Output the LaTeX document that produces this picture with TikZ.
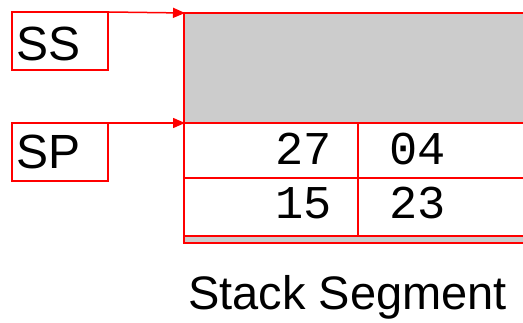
\documentclass[tikz,border=0pt]{standalone}
\usepackage{fontspec}
\setmainfont{Liberation Sans}
\newfontfamily\monof{Liberation Mono}
\usetikzlibrary{arrows.meta}
\definecolor{boxred}{RGB}{255,0,0}
\definecolor{fillgray}{RGB}{204,204,204}
\tikzset{
  regbox/.style={draw=boxred, line width=2pt, minimum width=96pt, minimum height=58pt, inner sep=0pt},
  reglabel/.style={anchor=base west, inner sep=0pt, font=\fontsize{48}{48}\selectfont},
  ptr/.style={draw=boxred, line width=1.5pt, -{Triangle[length=12pt,width=10pt]}},
  cellline/.style={draw=boxred, line width=2pt},
  digits/.style={inner sep=0pt, font=\monof\fontsize{47}{47}\selectfont},
}
\begin{document}
\begin{tikzpicture}[x=1pt,y=-1pt]
\useasboundingbox (0,0) rectangle (523,323);
% stack segment body
\fill[fillgray] (185,13) rectangle (530,123);
\fill[fillgray] (185,236) rectangle (530,243);
\coordinate (sstop) at (185,13);
\coordinate (sptop) at (185,123);
\draw[cellline] (184,13) -- (530,13);
\draw[cellline] (184,123) -- (530,123);
\draw[cellline] (184,178) -- (530,178);
\draw[cellline] (184,236) -- (530,236);
\draw[cellline] (184,243) -- (530,243);
\draw[cellline] (184,12) -- (184,244);
\draw[cellline] (358,123) -- (358,236);
% registers
\node[regbox] (ss) at (60,41) {};
\node[regbox] (sp) at (60,152) {};
\node[reglabel] (sslbl) at (16,61) {SS};
\node[reglabel] (splbl) at (16,169) {SP};
\draw[ptr] (ss.north east) ++(0,1) -- (sstop);
\draw[ptr] (sp.north east) ++(0,1) -- (sptop);
% cell contents
\node[digits, anchor=base east] (c11) at (332,165) {27};
\node[digits, anchor=base west] (c12) at (389,165) {04};
\node[digits, anchor=base east] (c21) at (332,219) {15};
\node[digits, anchor=base west] (c22) at (389,219) {23};
% caption
\node[anchor=base west, inner sep=0pt, font=\fontsize{47}{47}\selectfont] (cap) at (188,310) {Stack Segment};
\end{tikzpicture}
\end{document}
